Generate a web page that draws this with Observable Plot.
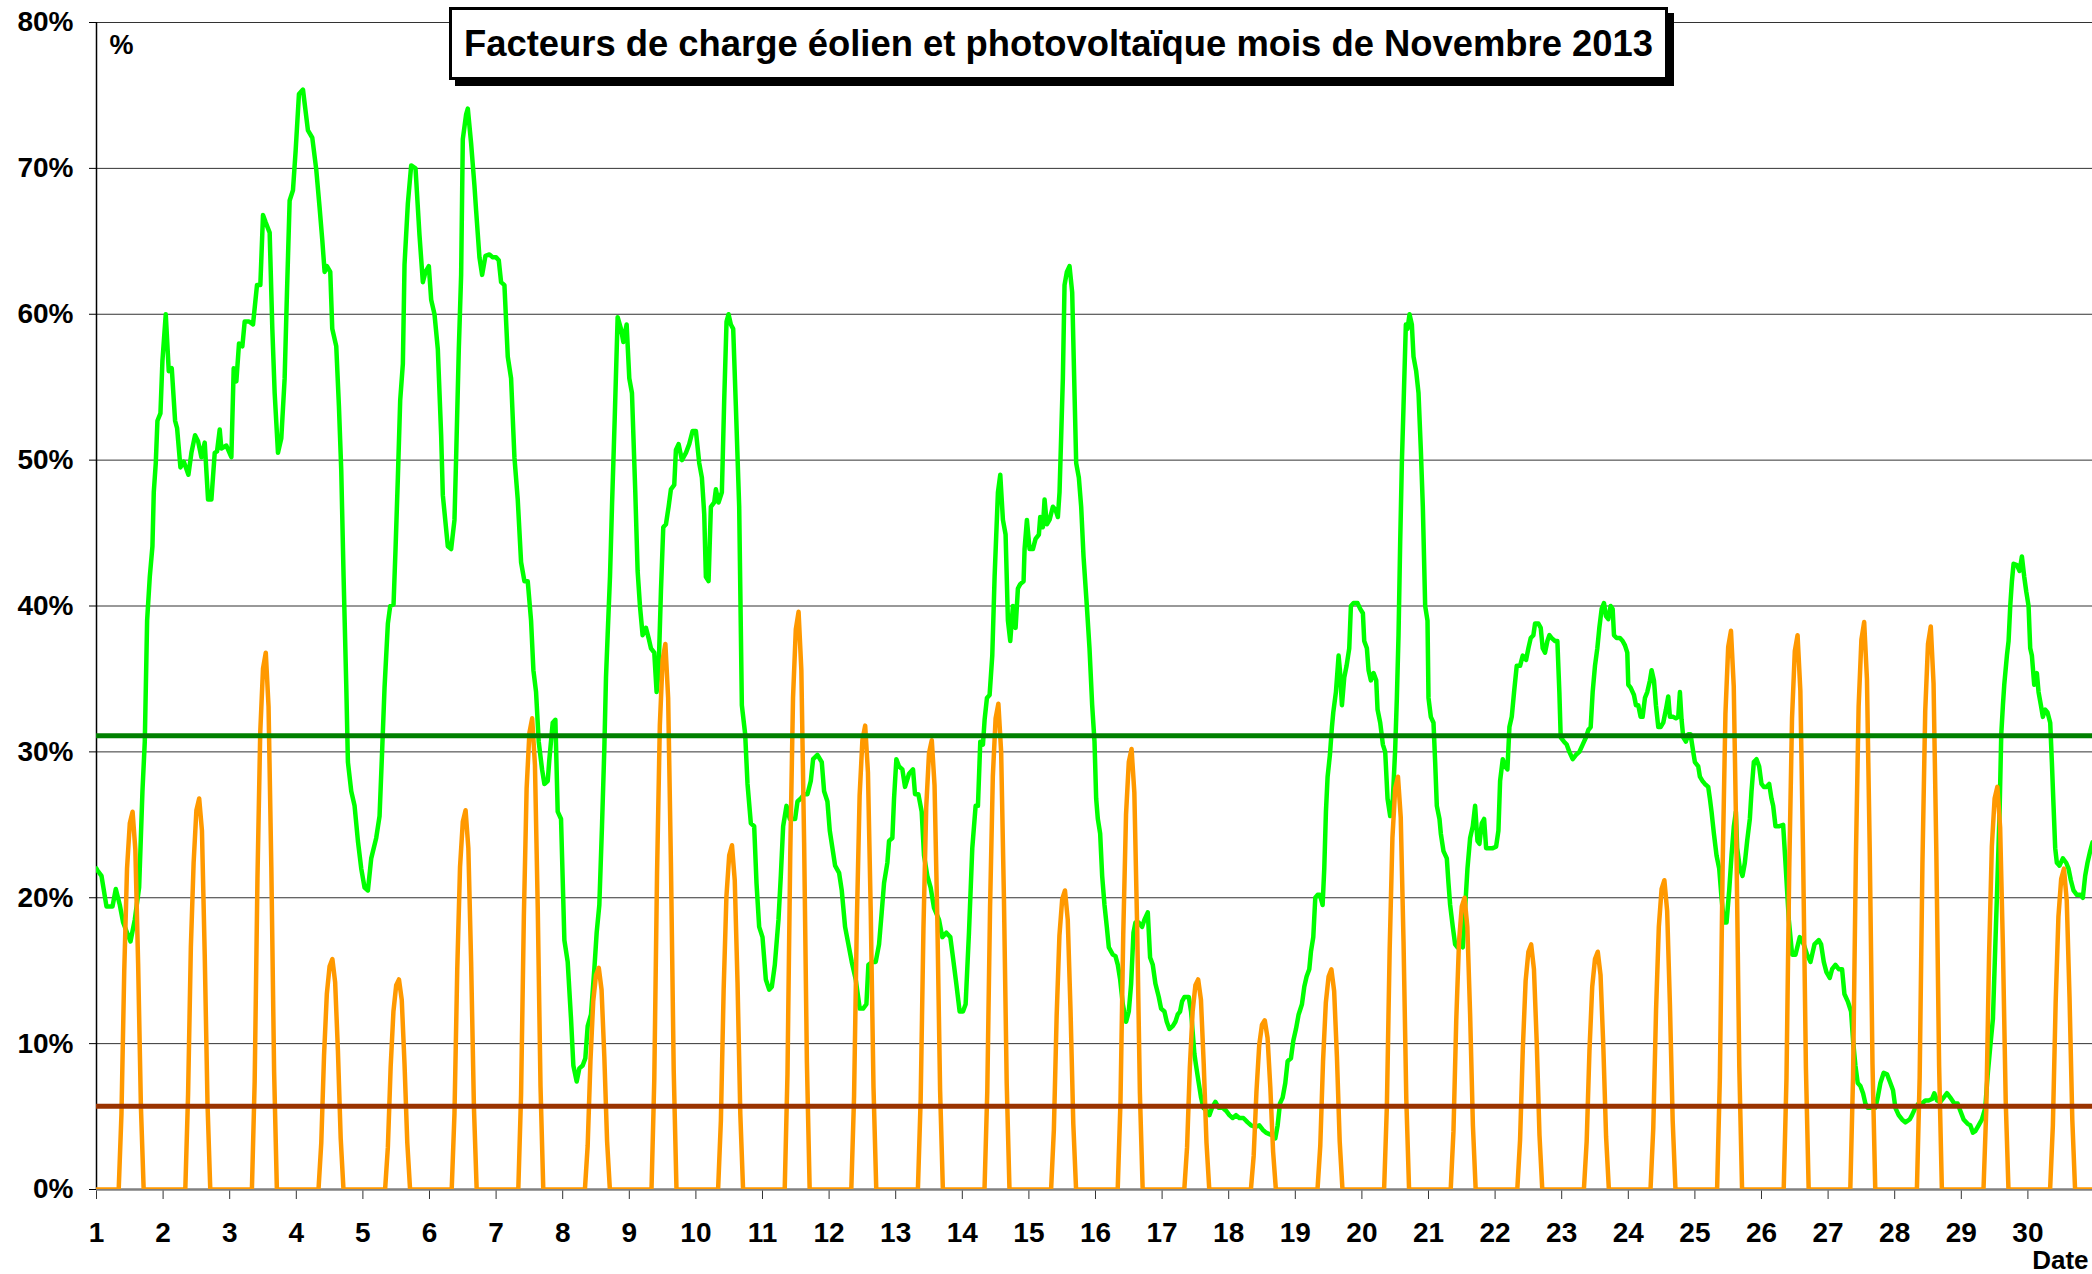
<!DOCTYPE html>
<html><head><meta charset="utf-8">
<script src="https://cdn.jsdelivr.net/npm/d3@7"></script>
<script src="https://cdn.jsdelivr.net/npm/@observablehq/plot@0.6"></script>
<style>
body{margin:0;background:#fff;}
#wrap{position:relative;width:2092px;height:1274px;overflow:hidden;font-family:"Liberation Sans",Arial,sans-serif;background:#fff;}
#title{position:absolute;left:449px;top:7px;width:1213px;height:67px;border:3px solid #000;background:#fff;box-shadow:6px 6px 0 #000;display:flex;align-items:center;justify-content:center;font-weight:bold;font-size:36.4px;white-space:nowrap;color:#000;}
</style></head><body>
<div id="wrap"><div id="chart"></div><div id="title">Facteurs de charge éolien et photovoltaïque mois de Novembre 2013</div></div>
<script>
// Tick values
const dayTicks = [1,2,3,4,5,6,7,8,9,10,11,12,13,14,15,16,17,18,19,20,21,22,23,24,25,26,27,28,29,30];
const yTicks = [0,10,20,30,40,50,60,70,80];

// Reference lines (monthly averages, %)
const windAverage = 31.1;
const solarAverage = 5.7;

// Wind load factor: [day of month (fractional), %]
const wind = [
[1.0,22.0],[1.01,21.9],[1.075,21.5],[1.15,19.4],[1.24,19.4],[1.29,20.6],[1.35,19.5],[1.40,18.3],[1.51,17.0],[1.575,18.5],[1.64,20.7],[1.69,27.3],[1.725,30.7],[1.76,39.0],[1.80,42.0],[1.84,44.1],[1.86,47.8],[1.89,49.8],[1.915,52.7],[1.96,53.2],[1.99,56.8],[2.04,60.0],[2.085,56.1],[2.13,56.3],[2.18,52.7],[2.21,52.2],[2.26,49.5],[2.31,49.9],[2.38,49.0],[2.425,50.5],[2.48,51.7],[2.525,51.3],[2.575,50.2],[2.625,51.2],[2.675,47.3],[2.725,47.3],[2.775,50.5],[2.81,50.6],[2.85,52.1],[2.875,50.8],[2.95,51.0],[3.025,50.2],[3.06,56.3],[3.10,55.4],[3.14,58.0],[3.19,57.8],[3.225,59.5],[3.29,59.5],[3.35,59.3],[3.41,62.0],[3.46,62.0],[3.50,66.8],[3.54,66.3],[3.60,65.6],[3.64,59.0],[3.675,54.6],[3.725,50.5],[3.775,51.5],[3.825,55.6],[3.86,61.5],[3.90,67.8],[3.95,68.5],[3.99,71.2],[4.04,75.1],[4.10,75.4],[4.175,72.6],[4.24,72.1],[4.30,69.9],[4.35,67.3],[4.39,65.1],[4.425,62.9],[4.46,63.3],[4.51,62.9],[4.54,59.0],[4.60,57.8],[4.64,53.7],[4.675,49.3],[4.71,42.0],[4.75,34.6],[4.775,29.3],[4.825,27.3],[4.875,26.3],[4.925,23.9],[4.975,22.0],[5.025,20.7],[5.075,20.5],[5.125,22.7],[5.20,24.1],[5.25,25.6],[5.29,30.2],[5.325,34.4],[5.375,38.8],[5.41,40.0],[5.46,40.1],[5.49,43.9],[5.525,48.8],[5.56,54.1],[5.60,56.6],[5.625,63.4],[5.675,67.6],[5.725,70.2],[5.79,70.0],[5.85,65.4],[5.90,62.2],[5.94,62.9],[5.99,63.3],[6.025,61.0],[6.075,60.0],[6.125,57.6],[6.175,51.7],[6.20,47.6],[6.275,44.1],[6.325,43.9],[6.375,45.9],[6.40,50.2],[6.44,57.6],[6.475,62.7],[6.50,72.0],[6.55,73.7],[6.575,74.1],[6.625,71.7],[6.675,68.8],[6.70,67.1],[6.75,63.9],[6.79,62.7],[6.84,64.0],[6.90,64.1],[6.95,63.9],[7.00,63.9],[7.04,63.7],[7.075,62.2],[7.125,62.0],[7.175,57.1],[7.225,55.6],[7.275,50.2],[7.325,47.3],[7.375,43.0],
[7.425,41.7],[7.475,41.7],[7.525,39.0],[7.56,35.6],[7.60,34.1],[7.64,30.7],[7.69,28.8],[7.725,27.8],[7.775,28.0],[7.80,29.5],[7.85,32.0],[7.89,32.2],[7.925,25.9],[7.975,25.4],[8.025,17.1],[8.075,15.6],[8.125,11.7],[8.16,8.5],[8.21,7.4],[8.25,8.3],[8.30,8.5],[8.34,9.0],[8.375,11.2],[8.425,12.0],[8.475,15.1],[8.51,17.6],[8.55,19.5],[8.59,24.9],[8.625,30.2],[8.65,35.1],[8.675,38.0],[8.71,42.0],[8.74,46.8],[8.78,52.7],[8.825,59.8],[8.875,59.0],[8.91,58.1],[8.96,59.3],[9.0,55.6],[9.04,54.6],[9.09,47.8],[9.125,42.4],[9.16,40.0],[9.20,38.0],[9.25,38.5],[9.29,37.8],[9.325,37.1],[9.375,36.8],[9.41,34.1],[9.44,35.6],[9.475,41.0],[9.51,45.4],[9.55,45.6],[9.59,46.8],[9.625,48.0],[9.675,48.3],[9.70,50.7],[9.74,51.1],[9.79,50.0],[9.85,50.5],[9.90,51.1],[9.95,52.0],[10.0,52.0],[10.05,49.8],[10.09,48.8],[10.125,46.3],[10.15,42.0],[10.19,41.7],[10.225,46.8],[10.275,47.1],[10.30,48.0],[10.34,47.1],[10.39,47.8],[10.425,54.1],[10.46,59.5],[10.49,60.0],[10.525,59.3],[10.56,59.0],[10.60,53.7],[10.65,46.8],[10.69,33.2],[10.74,31.2],[10.775,27.8],[10.825,25.1],[10.875,24.9],[10.91,21.0],[10.95,18.0],[11.0,17.3],[11.05,14.4],[11.10,13.7],[11.14,13.9],[11.185,15.4],[11.24,18.5],[11.275,21.5],[11.31,24.9],[11.36,26.3],[11.41,25.4],[11.45,25.4],[11.49,25.4],[11.525,26.6],[11.575,26.8],[11.625,27.1],[11.675,27.1],[11.725,28.0],[11.76,29.5],[11.825,29.8],[11.89,29.3],[11.925,27.3],[11.975,26.6],[12.01,24.6],[12.05,23.4],[12.09,22.2],[12.15,21.7],[12.19,20.5],[12.24,18.0],[12.29,16.8],[12.34,15.6],[12.40,14.4],[12.46,12.4],[12.51,12.4],[12.56,12.7],[12.59,15.4],[12.65,15.6],[12.70,15.6],[12.75,16.8],[12.79,19.0],[12.825,21.0],[12.875,22.4],[12.90,23.9],[12.95,24.1],[12.975,26.8],[13.01,29.5],[13.05,29.0],[13.10,28.8],[13.14,27.6],[13.20,28.5],[13.26,28.8],[13.29,27.1],[13.34,27.1],[13.39,25.9],[13.425,22.9],[13.475,21.5],[13.525,20.7],[13.575,19.3],[13.65,18.5],[13.70,17.3],[13.76,17.6],[13.82,17.3],[13.86,15.9],[13.91,14.1],[13.96,12.2],[14.01,12.2],[14.05,12.7],[14.10,17.6],[14.15,23.4],[14.20,26.3],[14.235,26.3],[14.27,30.7],[14.31,30.5],[14.335,32.2],[14.37,33.7],[14.41,33.9],[14.45,36.6],[14.485,42.0],[14.535,47.8],[14.57,49.0],[14.61,45.9],[14.65,44.9],[14.685,39.0],[14.72,37.6],[14.76,40.0],[14.80,38.5],[14.835,41.2],[14.87,41.5],[14.92,41.7],[14.935,43.9],[14.97,45.9],[15.01,43.9],[15.06,43.9],[15.10,44.6],[15.15,44.9],[15.17,46.1],[15.21,45.4],[15.235,47.3],[15.27,45.6],[15.31,45.9],[15.36,46.8],[15.40,46.6],[15.435,46.1],[15.46,47.8],[15.485,51.7],[15.51,55.6],[15.535,62.0],[15.57,62.9],[15.61,63.3],[15.65,61.5],[15.685,54.6],[15.71,49.8],[15.75,48.8],[15.785,46.8],[15.82,43.4],[15.87,40.0],[15.91,37.1],[15.95,33.2],[15.985,30.7],[16.01,26.8],[16.035,25.4],[16.07,24.4],[16.10,21.5],[16.135,19.5],[16.17,18.0],[16.2,16.6],[16.26,16.1],[16.3,16.0],[16.335,15.4],[16.37,14.4],[16.41,12.7],[16.46,11.5],[16.5,12.2],[16.535,14.1],[16.57,17.6],[16.6,18.3],[16.65,18.3],[16.7,18.0],[16.735,18.5],[16.785,19.0],[16.82,15.9],[16.86,15.4],[16.9,14.1],[16.95,13.2],[16.985,12.4],[17.035,12.2],[17.07,11.5],[17.11,11.0],[17.16,11.2],[17.2,11.5],[17.235,12.0],[17.27,12.2],[17.3,12.9],[17.335,13.2],[17.4,13.2],[17.435,12.2],[17.485,9.3],[17.51,8.5],[17.55,7.3],[17.585,6.3],[17.62,5.6],[17.67,5.4],[17.71,5.1],[17.75,5.6],[17.8,6.0],[17.85,5.6],[17.91,5.6],[17.96,5.4],[18.01,5.1],[18.06,4.9],[18.11,5.1],[18.16,4.9],[18.22,4.9],[18.285,4.6],[18.335,4.4],[18.4,4.3],[18.46,4.4],[18.51,4.1],[18.56,3.9],[18.61,3.8],[18.66,3.7],[18.7,3.5],[18.735,4.4],[18.77,5.9],[18.81,6.3],[18.85,7.3],[18.885,8.8],[18.935,9.0],[18.97,10.2],[19.01,11.0],[19.05,12.0],[19.1,12.7],[19.135,13.9],[19.17,14.6],[19.21,15.1],[19.235,16.3],[19.27,17.3],[19.3,20.0],[19.335,20.2],[19.37,20.2],[19.41,19.5],[19.435,22.0],[19.46,25.9],[19.485,28.3],[19.52,29.8],[19.55,31.7],[19.57,32.7],[19.61,34.1],[19.65,36.6],[19.67,35.6],[19.7,33.2],[19.735,35.1],[19.77,35.9],[19.81,37.1],[19.835,40.0],[19.875,40.2],[19.935,40.2],[19.975,39.8],[20.015,39.5],[20.035,37.6],[20.075,37.1],[20.1,35.6],[20.135,34.9],[20.175,35.4],[20.215,34.9],[20.235,32.9],[20.275,32.0],[20.315,30.5],[20.35,30.0],[20.385,26.8],[20.425,25.6],[20.465,26.8],[20.5,30.2],[20.525,33.7],[20.55,38.0],[20.575,44.4],[20.6,49.8],[20.625,53.7],[20.66,59.3],[20.685,59.0],[20.715,60.0],[20.75,59.3],[20.775,57.1],[20.815,56.1],[20.85,54.6],[20.885,50.7],[20.915,46.8],[20.95,40.0],[20.985,39.0],[21.0,33.7],[21.035,32.4],[21.075,32.0],[21.1,29.3],[21.125,26.3],[21.165,25.4],[21.185,24.4],[21.225,23.2],[21.275,22.7],[21.3,21.0],[21.325,19.5],[21.365,18.0],[21.4,16.8],[21.435,16.6],[21.475,16.8],[21.515,16.6],[21.55,19.3],[21.585,22.0],[21.625,24.1],[21.665,24.9],[21.7,26.3],[21.735,23.9],[21.765,23.7],[21.8,25.1],[21.835,25.4],[21.865,23.4],[21.915,23.4],[21.965,23.4],[22.015,23.5],[22.05,24.6],[22.075,28.0],[22.115,29.5],[22.15,29.0],[22.185,28.8],[22.215,31.7],[22.25,32.4],[22.285,34.1],[22.325,35.9],[22.375,35.9],[22.415,36.6],[22.465,36.3],[22.5,37.1],[22.535,37.8],[22.575,38.0],[22.6,38.8],[22.65,38.8],[22.685,38.5],[22.715,37.1],[22.75,36.8],[22.785,37.6],[22.815,38.0],[22.85,37.8],[22.9,37.6],[22.935,37.6],[22.965,34.1],[22.985,31.0],[23.035,30.7],[23.075,30.5],[23.115,30.0],[23.165,29.5],[23.215,29.8],[23.265,30.0],[23.315,30.5],[23.365,31.0],[23.4,31.5],[23.435,31.7],[23.465,34.1],[23.5,35.9],[23.535,37.1],[23.565,38.5],[23.6,39.8],[23.635,40.2],[23.665,39.3],[23.7,39.1],[23.735,40.0],[23.765,39.8],[23.785,38.0],[23.825,37.8],[23.875,37.8],[23.915,37.6],[23.95,37.3],[23.985,36.8],[24.0,34.6],[24.035,34.4],[24.085,33.9],[24.115,33.2],[24.15,33.2],[24.185,32.4],[24.215,32.4],[24.25,33.7],[24.285,34.1],[24.325,34.9],[24.35,35.6],[24.385,34.9],[24.415,33.2],[24.45,31.7],[24.485,31.7],[24.525,32.0],[24.565,32.9],[24.6,33.8],[24.625,32.4],[24.675,32.4],[24.715,32.3],[24.75,32.4],[24.775,34.1],[24.8,32.2],[24.825,31.0],[24.865,30.7],[24.9,31.2],[24.935,31.2],[24.975,30.0],[25.0,29.3],[25.05,29.0],[25.075,28.3],[25.115,28.0],[25.15,27.8],[25.2,27.6],[25.225,26.8],[25.25,25.9],[25.285,24.4],[25.325,22.9],[25.365,22.0],[25.4,20.0],[25.435,18.3],[25.475,18.3],[25.515,20.5],[25.55,22.9],[25.585,24.9],[25.615,25.9],[25.635,23.4],[25.675,22.0],[25.715,21.5],[25.75,22.4],[25.785,23.9],[25.825,25.4],[25.85,27.3],[25.885,29.3],[25.925,29.5],[25.965,29.0],[26.0,27.8],[26.035,27.6],[26.075,27.6],[26.115,27.8],[26.15,26.8],[26.175,26.3],[26.21,24.9],[26.26,24.9],[26.325,25.0],[26.36,22.4],[26.41,18.5],[26.46,16.1],[26.51,16.1],[26.575,17.3],[26.635,16.8],[26.685,16.1],[26.735,15.6],[26.76,16.1],[26.795,16.8],[26.86,17.1],[26.895,16.8],[26.935,15.6],[26.975,14.9],[27.025,14.5],[27.06,15.1],[27.11,15.4],[27.16,15.1],[27.21,15.1],[27.245,13.4],[27.295,12.9],[27.345,12.2],[27.375,10.2],[27.41,8.5],[27.445,7.3],[27.485,7.1],[27.525,6.6],[27.56,5.9],[27.595,5.6],[27.66,5.6],[27.71,5.6],[27.745,6.3],[27.785,7.3],[27.835,8.0],[27.885,7.9],[27.935,7.3],[27.975,6.8],[28.01,5.6],[28.06,5.1],[28.11,4.8],[28.16,4.6],[28.225,4.8],[28.26,5.1],[28.31,5.6],[28.36,5.9],[28.41,5.9],[28.46,6.1],[28.51,6.1],[28.56,6.2],[28.595,6.6],[28.635,6.1],[28.685,6.0],[28.735,6.3],[28.785,6.6],[28.835,6.3],[28.895,5.9],[28.945,5.9],[28.985,5.4],[29.035,4.8],[29.095,4.5],[29.135,4.4],[29.175,3.9],[29.21,4.0],[29.26,4.4],[29.31,4.8],[29.36,5.6],[29.395,7.8],[29.435,9.8],[29.475,11.7],[29.51,16.6],[29.545,21.5],[29.575,25.9],[29.6,31.2],[29.625,33.2],[29.645,34.6],[29.685,36.6],[29.71,37.6],[29.735,40.0],[29.76,41.7],[29.785,42.9],[29.835,42.8],[29.875,42.4],[29.91,43.4],[29.945,42.0],[29.975,41.0],[30.01,40.0],[30.035,37.1],[30.06,36.6],[30.095,34.6],[30.135,35.4],[30.16,34.1],[30.195,33.2],[30.225,32.4],[30.26,32.9],[30.295,32.7],[30.335,32.0],[30.36,29.3],[30.385,26.3],[30.41,23.4],[30.435,22.4],[30.475,22.2],[30.525,22.7],[30.575,22.4],[30.61,22.0],[30.645,21.2],[30.685,20.5],[30.735,20.2],[30.785,20.2],[30.825,20.0],[30.86,21.5],[30.895,22.4],[30.935,23.2],[30.97,23.8]
];

// Photovoltaic load factor, hourly values 8h..17h for each day (0 at night)
const solarHours = [8,9,10,11,12,13,14,15,16,17];
const solarByDay = [
[0,5.2,15.0,22.0,25.1,25.9,23.3,15.5,5.7,0],
[0,6.5,16.6,22.4,26.0,26.8,24.6,16.1,5.9,0],
[0,7.4,21.3,31.3,35.7,36.8,33.1,22.1,8.1,0],
[0,3.2,9.2,13.4,15.3,15.8,14.2,9.5,3.5,0],
[0,2.9,8.4,12.2,14.0,14.4,13.0,8.6,3.2,0],
[0,5.2,15.1,22.1,25.2,26.0,23.4,15.6,5.7,0],
[0,6.5,18.7,27.5,31.3,32.3,29.1,19.4,7.1,0],
[0,3.0,8.8,12.9,14.7,15.2,13.7,9.1,3.3,0],
[0,7.5,21.7,31.8,36.3,37.4,33.7,22.4,8.2,0],
[0,4.7,13.7,20.1,22.9,23.6,21.2,14.2,5.2,0],
[0,7.9,23.0,33.7,38.4,39.6,35.6,23.8,8.7,0],
[0,6.4,18.4,27.0,30.8,31.8,28.6,19.1,7.0,0],
[0,6.2,17.9,26.2,29.9,30.8,27.7,18.5,6.8,0],
[0,6.7,19.3,28.3,32.3,33.3,30.0,20.0,7.3,0],
[0,4.1,11.9,17.4,19.9,20.5,18.5,12.3,4.5,0],
[0,6.0,17.5,25.7,29.3,30.2,27.2,18.1,6.6,0],
[0,2.9,8.4,12.2,14.0,14.4,13.0,8.6,3.2,0],
[0,2.3,6.7,9.9,11.3,11.6,10.4,7.0,2.6,0],
[0,3.0,8.8,12.8,14.6,15.1,13.6,9.1,3.3,0],
[0,5.7,16.4,24.1,27.5,28.3,25.5,17.0,6.2,0],
[0,4.0,11.6,17.0,19.4,20.0,18.0,12.0,4.4,0],
[0,3.4,9.7,14.3,16.3,16.8,15.1,10.1,3.7,0],
[0,3.3,9.5,13.9,15.8,16.3,14.7,9.8,3.6,0],
[0,4.2,12.3,18.0,20.6,21.2,19.1,12.7,4.7,0],
[0,7.7,22.2,32.6,37.2,38.3,34.5,23.0,8.4,0],
[0,7.6,22.0,32.3,36.9,38.0,34.2,22.8,8.4,0],
[0,7.8,22.6,33.1,37.7,38.9,35.0,23.3,8.6,0],
[0,7.7,22.4,32.8,37.4,38.6,34.7,23.2,8.5,0],
[0,5.5,16.0,23.5,26.8,27.6,24.8,16.6,6.1,0],
[0,4.4,12.8,18.7,21.3,22.0,19.8,13.2,4.8,0]
];

const windData = wind.map(([x, y]) => ({x, y}));
const solarData = [];
solarByDay.forEach((row, i) => {
  const day = i + 1;
  solarData.push({x: day, y: 0});
  row.forEach((v, j) => solarData.push({x: day + solarHours[j] / 24, y: v}));
});
solarData.push({x: 31, y: 0});

const font = "Liberation Sans, Arial, sans-serif";
const chart = Plot.plot({
  width: 2092,
  height: 1274,
  marginTop: 22,
  marginBottom: 85,
  marginLeft: 96,
  marginRight: 0,
  style: {fontFamily: font, background: "#fff", color: "#000"},
  x: {domain: [1, 30.97]},
  y: {domain: [0, 80]},
  marks: [
    Plot.gridY(yTicks, {stroke: "#333", strokeOpacity: 1, strokeWidth: 1}),
    Plot.axisY(yTicks, {tickSize: 7, tickPadding: 16, tickFormat: d => d + "%", fontSize: 28, fontWeight: "bold", label: null, stroke: "#000", fill: "#000"}),
    Plot.axisX(dayTicks, {tickSize: 10, tickPadding: 23, tickFormat: d => String(d), fontSize: 28, fontWeight: "bold", label: null, stroke: "#333", fill: "#000"}),
    Plot.ruleY([0], {stroke: "#808080", strokeWidth: 2.5}),
    Plot.ruleX([1], {stroke: "#000", strokeWidth: 1.5}),
    Plot.line(windData, {x: "x", y: "y", stroke: "#00ff00", strokeWidth: 4.5, clip: true}),
    Plot.line(solarData, {x: "x", y: "y", stroke: "#ff9900", strokeWidth: 4.5, clip: true}),
    Plot.ruleY([windAverage], {stroke: "#008000", strokeWidth: 5}),
    Plot.ruleY([solarAverage], {stroke: "#993300", strokeWidth: 5}),
    Plot.text(["%"], {frameAnchor: "top-left", textAnchor: "start", lineAnchor: "middle", dx: 13, dy: 23, fontSize: 27, fontWeight: "bold", fill: "#000"}),
    Plot.text(["Date"], {frameAnchor: "bottom-right", textAnchor: "end", lineAnchor: "middle", dx: -4, dy: 71, fontSize: 26, fontWeight: "bold", fill: "#000"})
  ]
});
document.getElementById("chart").appendChild(chart);
</script>
</body></html>
